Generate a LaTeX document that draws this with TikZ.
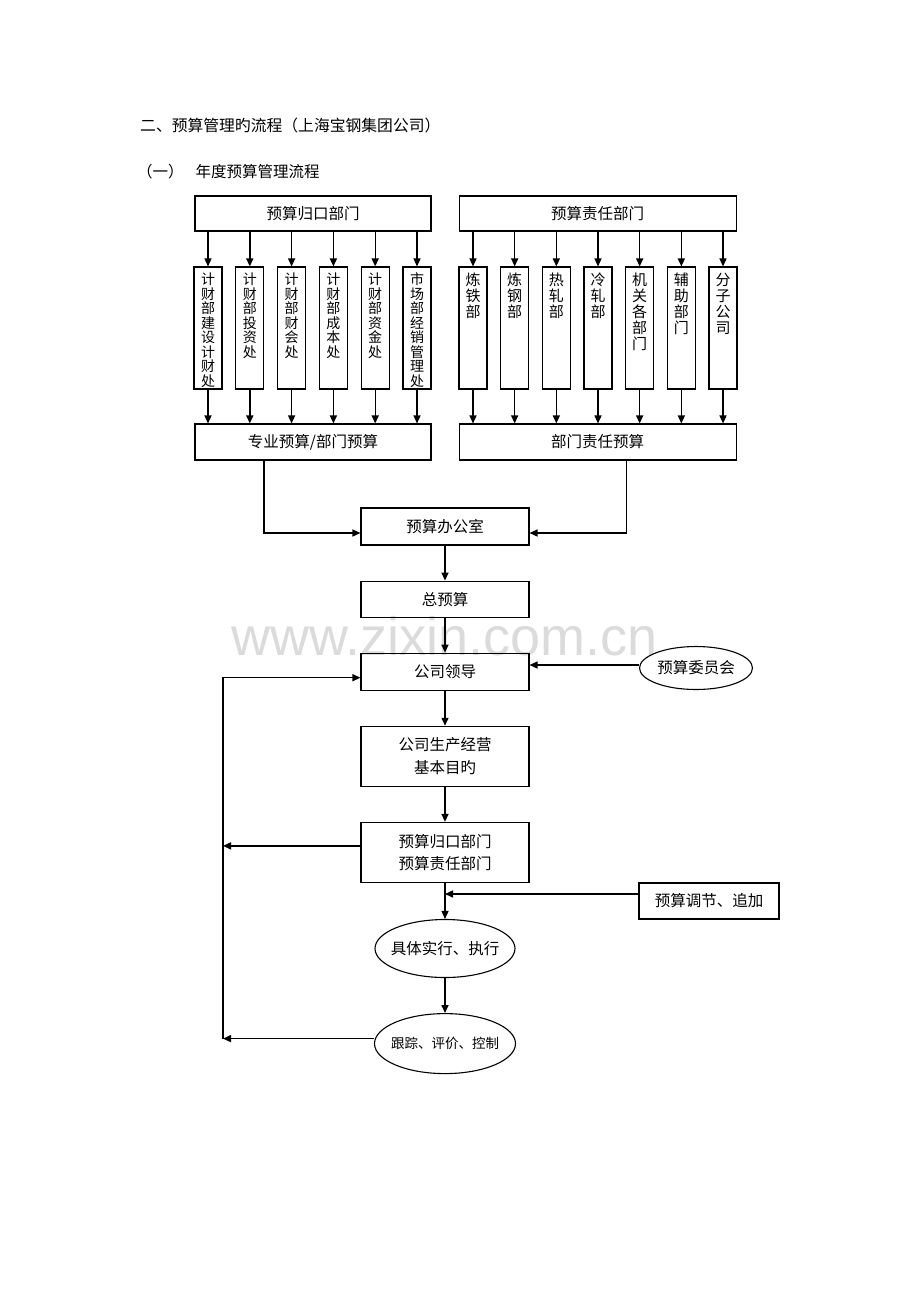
\documentclass[tikz,border=0pt]{standalone}
\usepackage{fontspec}
\usetikzlibrary{arrows.meta,positioning,shapes.geometric}
\newfontfamily\cjk{Noto Sans CJK SC}
\newfontfamily\wmfont{Liberation Sans}
\newcommand{\colstack}[1]{\parbox[c][110pt][t]{16pt}{\centering #1}}

\begin{document}
\begin{tikzpicture}[
  x=1pt,y=-1pt,
  font=\cjk\fontsize{15.5}{22.5}\selectfont,
  box/.style={draw,line width=1.1pt,inner sep=0pt,minimum height=36pt,align=center},
  colbox/.style={draw,line width=1.1pt,inner xsep=0pt,inner ysep=6pt,minimum width=28pt},
  oval/.style={ellipse,draw,line width=1.1pt,inner sep=0pt},
  arr/.style={-{Triangle[length=8pt,width=7pt]},line width=1.4pt}
]
\useasboundingbox (0,0) rectangle (920,1302);

% watermark and headings
\node[text=black!14,font=\wmfont\fontsize{54}{54}\selectfont,anchor=base west,inner sep=0pt] (mark) at (231,655) {www.zixin.com.cn};
\node[anchor=west,inner sep=0pt,font=\cjk\fontsize{15.8}{20}\selectfont] (title) at (140,125) {二、预算管理旳流程（上海宝钢集团公司）};
\node[anchor=west,inner sep=0pt] (subtitle) at (137,172) {（一）\hspace{12pt}年度预算管理流程};

% top row
\node[box,minimum width=236pt,minimum height=35pt] (alloc) at (313,213.5) {预算归口部门};
\node[box,minimum width=277pt,minimum height=35pt,right=27pt of alloc] (resp) {预算责任部门};

\foreach \t [count=\i] in {{计\\财\\部\\建\\设\\计\\财\\处},{计\\财\\部\\投\\资\\处},{计\\财\\部\\财\\会\\处},
    {计\\财\\部\\成\\本\\处},{计\\财\\部\\资\\金\\处},{市\\场\\部\\经\\销\\管\\理\\处}}
  \node[colbox,font=\cjk\fontsize{14}{14.5}\selectfont] (l\i) at ({208+41.8*(\i-1)},328) {\colstack{\t}};
\foreach \t [count=\i] in {{炼\\铁\\部},{炼\\钢\\部},{热\\轧\\部},{冷\\轧\\部},{机\\关\\各\\部\\门},{辅\\助\\部\\门},{分\\子\\公\\司}}
  \node[colbox,font=\cjk\fontsize{15}{16}\selectfont] (r\i) at ({473+41.67*(\i-1)},328) {\colstack{\t}};

\node[box,minimum width=236pt] (pro) at (alloc |- 0,442) {专业预算/部门预算};
\node[box,minimum width=277pt,right=27pt of pro] (dbud) {部门责任预算};

% main chain
\node[box,minimum width=168pt,minimum height=37pt] (office) at (445,526.5) {预算办公室};
\node[box,minimum width=168pt,below=35pt of office] (total) {总预算};
\node[box,minimum width=168pt,minimum height=37pt,below=35pt of total] (lead) {公司领导};
\node[box,minimum width=168pt,minimum height=60pt,below=35pt of lead] (goal) {公司生产经营\\基本目旳};
\node[box,minimum width=168pt,minimum height=60pt,below=35pt of goal] (depts) {预算归口部门\\预算责任部门};
\node[oval,minimum width=140pt,minimum height=58pt,below=36pt of depts] (exec) {\makebox[60pt]{具体实行、执行}};
\node[oval,minimum width=141pt,minimum height=60pt,below=35pt of exec,font=\cjk\fontsize{13.5}{16}\selectfont] (track) {\makebox[60pt]{跟踪、评价、控制}};

\node[oval,minimum width=113pt,minimum height=43pt] (council) at (696,668) {\makebox[50pt]{预算委员会}};
\node[box,minimum width=140pt] (adjust) at (709,901) {预算调节、追加};
\coordinate (rail) at (223,0);

% connectors
\foreach \i in {1,...,6} {
  \draw[arr] (l\i |- alloc.south) -- (l\i.north);
  \draw[arr] (l\i.south) -- (l\i |- pro.north);
}
\foreach \i in {1,...,7} {
  \draw[arr] (r\i |- resp.south) -- (r\i.north);
  \draw[arr] (r\i.south) -- (r\i |- dbud.north);
}
\draw[arr] ([xshift=-49pt]pro.south) |- ([yshift=-6.5pt]office.west);
\draw[arr] ([xshift=29pt]dbud.south) |- ([yshift=-6.5pt]office.east);
\draw[arr] (office) -- (total);
\draw[arr] (total) -- (lead);
\draw[arr] (lead) -- (goal);
\draw[arr] (goal) -- (depts);
\draw[arr] (depts) -- (exec);
\draw[arr] (exec) -- (track);
\draw[arr] ([yshift=3pt]council.west) -- ([yshift=3pt]council.west -| lead.east);
\draw[arr] ([yshift=7pt]adjust.west) -- ([yshift=7pt]adjust.west -| depts.south);
\draw[arr] ([yshift=6.5pt]depts.west) -- ([yshift=6.5pt]depts.west -| rail);
\draw[arr] ([yshift=5pt]track.west) -- ([yshift=5pt]track.west -| rail);
\draw[arr] ([yshift=5pt]track.west -| rail) |- ([yshift=-6pt]lead.west);
\end{tikzpicture}
\end{document}
